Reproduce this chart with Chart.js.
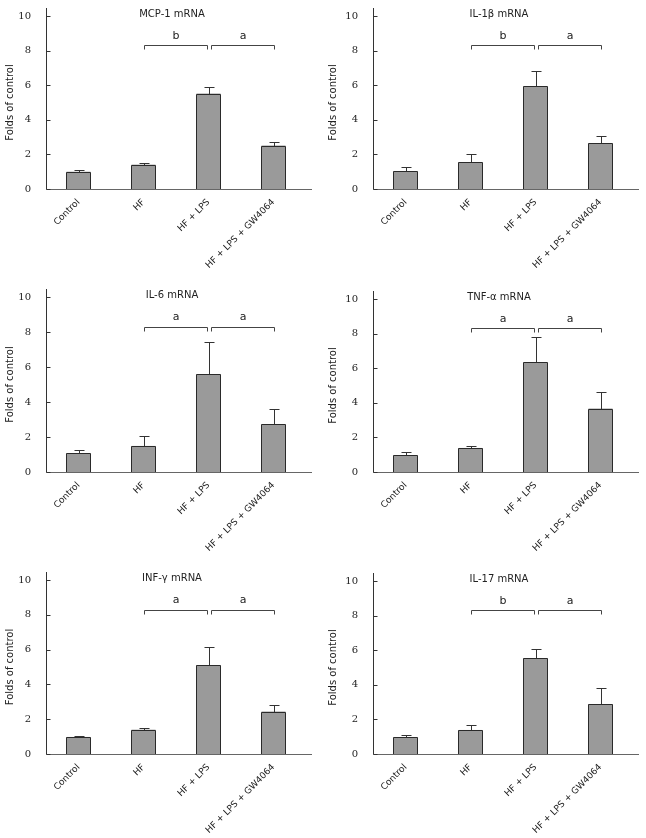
<!DOCTYPE html>
<html>
<head>
<meta charset="utf-8">
<script src="https://cdn.jsdelivr.net/npm/chart.js@4"></script>
<style>
  html, body { margin: 0; padding: 0; background: #fff; overflow: hidden; }
  #wrap { position: relative; width: 646px; height: 838px; }
  canvas { position: absolute; }
</style>
</head>
<body>
<div id="wrap"></div>
<script>
const categories = ['Control', 'HF', 'HF + LPS', 'HF + LPS + GW4064'];
const titles = ['MCP-1 mRNA', 'IL-1\u03b2 mRNA', 'IL-6 mRNA', 'TNF-\u03b1 mRNA', 'INF-\u03b3 mRNA', 'IL-17 mRNA'];
const yTicks = [0, 2, 4, 6, 8, 10];

// means and upper error (SEM)
const mcp1Mean = [1.00, 1.41, 5.52, 2.51];
const mcp1Err  = [0.08, 0.07, 0.38, 0.23];
const il1bMean = [1.02, 1.54, 5.93, 2.64];
const il1bErr  = [0.23, 0.46, 0.89, 0.44];
const il6Mean  = [1.07, 1.49, 5.58, 2.72];
const il6Err   = [0.21, 0.54, 1.84, 0.86];
const tnfMean  = [0.97, 1.39, 6.33, 3.67];
const tnfErr   = [0.19, 0.14, 1.49, 0.98];
const infMean  = [0.98, 1.40, 5.11, 2.44];
const infErr   = [0.06, 0.12, 1.03, 0.40];
const il17Mean = [0.96, 1.39, 5.55, 2.89];
const il17Err  = [0.14, 0.29, 0.52, 0.93];

// significance letters: [HF vs HF+LPS, HF+LPS vs HF+LPS+GW4064]
const mcp1Sig = ['b', 'a'];
const il1bSig = ['b', 'a'];
const il6Sig  = ['a', 'a'];
const tnfSig  = ['a', 'a'];
const infSig  = ['a', 'a'];
const il17Sig = ['b', 'a'];
const bracketLevel = 8.3;
const letterLevel = 8.85;

const panels = [
  { title: titles[0], mean: mcp1Mean, err: mcp1Err, sig: mcp1Sig, px: 0,   py: 0,   left: 46, top: 16, bottom: 189 },
  { title: titles[1], mean: il1bMean, err: il1bErr, sig: il1bSig, px: 323, py: 0,   left: 50, top: 16, bottom: 189 },
  { title: titles[2], mean: il6Mean,  err: il6Err,  sig: il6Sig,  px: 0,   py: 280, left: 46, top: 17, bottom: 192 },
  { title: titles[3], mean: tnfMean,  err: tnfErr,  sig: tnfSig,  px: 323, py: 280, left: 50, top: 19, bottom: 192 },
  { title: titles[4], mean: infMean,  err: infErr,  sig: infSig,  px: 0,   py: 560, left: 46, top: 20, bottom: 194 },
  { title: titles[5], mean: il17Mean, err: il17Err, sig: il17Sig, px: 323, py: 560, left: 50, top: 21, bottom: 194 },
];

const W = 323, H = 280, SPAN = 260;
const sans = 'DejaVu Sans, Verdana, sans-serif';

function makeOverlay(p) {
  return {
    id: 'overlay',
    afterDatasetsDraw(chart) {
      const { ctx, chartArea } = chart;
      const x = chart.scales.x, y = chart.scales.y;
      const y0 = Math.round(y.getPixelForValue(0)) + 0.5;
      const ax = Math.round(chartArea.left) + 0.5;
      ctx.save();
      ctx.lineWidth = 1;

      // bar outlines
      ctx.strokeStyle = '#2a2a2a';
      chart.getDatasetMeta(0).data.forEach((bar) => {
        const l = Math.round(bar.x - bar.width / 2) + 0.5;
        const r = Math.round(bar.x + bar.width / 2) - 0.5;
        const t = Math.round(bar.y) + 0.5;
        ctx.beginPath();
        ctx.moveTo(l, y0);
        ctx.lineTo(l, t);
        ctx.lineTo(r, t);
        ctx.lineTo(r, y0);
        ctx.stroke();
      });

      // axes
      ctx.strokeStyle = '#666';
      ctx.beginPath();
      ctx.moveTo(ax, y0);
      ctx.lineTo(chartArea.right + 6, y0);
      ctx.stroke();
      ctx.strokeStyle = '#333';
      ctx.beginPath();
      ctx.moveTo(ax, chartArea.top - 8);
      ctx.lineTo(ax, y0);
      yTicks.forEach((v) => {
        const ty = Math.round(y.getPixelForValue(v)) + 0.5;
        ctx.moveTo(ax, ty);
        ctx.lineTo(ax + 4, ty);
      });
      ctx.stroke();

      // error bars, upper only
      ctx.strokeStyle = '#333';
      p.mean.forEach((m, i) => {
        const cx = Math.round(x.getPixelForValue(i)) + 0.5;
        const yt = Math.round(y.getPixelForValue(m));
        const ye = Math.round(y.getPixelForValue(m + p.err[i])) + 0.5;
        ctx.beginPath();
        ctx.moveTo(cx, yt);
        ctx.lineTo(cx, ye);
        ctx.moveTo(cx - 5, ye);
        ctx.lineTo(cx + 5, ye);
        ctx.stroke();
      });

      // significance brackets
      const by = Math.round(y.getPixelForValue(bracketLevel)) + 0.5;
      const ly = y.getPixelForValue(letterLevel);
      const pairs = [[1, 2, -2], [2, 3, 2]];
      ctx.strokeStyle = '#444';
      ctx.fillStyle = '#222';
      ctx.font = '11px ' + sans;
      ctx.textAlign = 'center';
      ctx.textBaseline = 'middle';
      pairs.forEach(([a, b, shift], k) => {
        let xa = Math.round(x.getPixelForValue(a)) + 0.5;
        let xb = Math.round(x.getPixelForValue(b)) + 0.5;
        if (shift < 0) xb += shift; else xa += shift;
        ctx.beginPath();
        ctx.moveTo(xa, by + 4);
        ctx.lineTo(xa, by);
        ctx.lineTo(xb, by);
        ctx.lineTo(xb, by + 4);
        ctx.stroke();
        ctx.fillText(p.sig[k], (xa + xb) / 2, ly);
      });

      // panel title
      ctx.font = '10px ' + sans;
      ctx.fillStyle = '#222';
      ctx.fillText(p.title, (chartArea.left + chartArea.right) / 2 - 4, chartArea.top - 2);
      ctx.restore();
    }
  };
}

const wrap = document.getElementById('wrap');
panels.forEach((p) => {
  const cv = document.createElement('canvas');
  cv.width = W;
  cv.height = H;
  cv.style.left = p.px + 'px';
  cv.style.top = p.py + 'px';
  wrap.appendChild(cv);

  new Chart(cv.getContext('2d'), {
    type: 'bar',
    data: {
      labels: categories,
      datasets: [{
        data: p.mean,
        backgroundColor: '#9a9a9a',
        borderWidth: 0,
        barPercentage: 0.37,
        categoryPercentage: 1,
      }],
    },
    options: {
      responsive: false,
      animation: false,
      devicePixelRatio: 1,
      layout: { padding: { top: p.top, right: W - p.left - SPAN, bottom: 0, left: 0 } },
      plugins: { legend: { display: false }, tooltip: { enabled: false }, title: { display: false } },
      scales: {
        x: {
          grid: { display: false },
          border: { display: false },
          ticks: {
            autoSkip: false, minRotation: 45, maxRotation: 45, padding: 0,
            color: '#222', font: { family: sans, size: 9 },
          },
          afterFit: (s) => { s.height = H - p.bottom; },
        },
        y: {
          min: 0, max: 10,
          afterBuildTicks: (s) => { s.ticks = yTicks.map((v) => ({ value: v })); },
          grid: { display: false },
          border: { display: false },
          ticks: {
            padding: 7, color: '#222',
            font: { family: 'DejaVu Serif, Liberation Serif, serif', size: 10 },
          },
          title: {
            display: true, text: 'Folds of control', color: '#222',
            font: { family: sans, size: 10 }, padding: { top: 4, bottom: 0 },
          },
          afterFit: (s) => { s.width = p.left; },
        },
      },
    },
    plugins: [makeOverlay(p)],
  });
});
</script>
</body>
</html>
